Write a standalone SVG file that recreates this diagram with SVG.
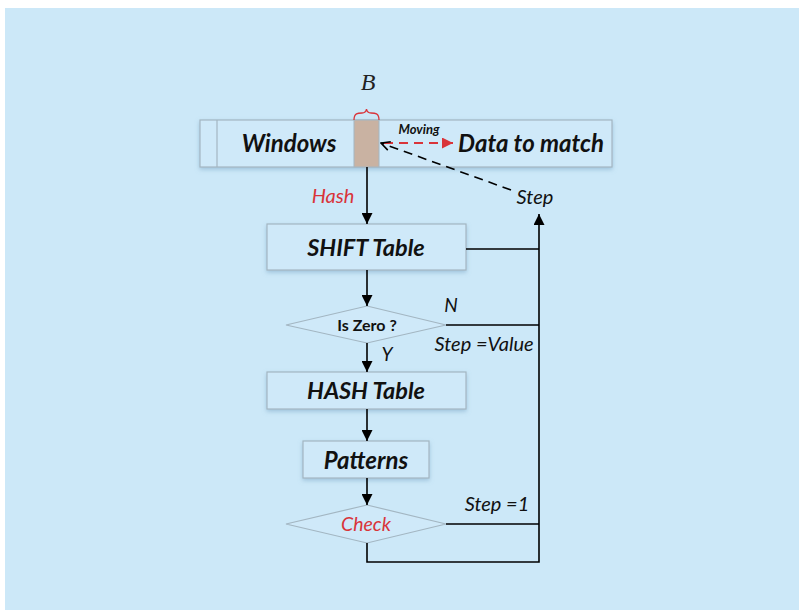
<svg xmlns="http://www.w3.org/2000/svg" width="799" height="610" viewBox="0 0 799 610">
<style>
.box{fill:#cfe9f9;stroke:#a3b6c2;stroke-width:1.2}
.t{font-family:Lato,"Liberation Sans",sans-serif;font-weight:bold;font-style:italic;fill:#111}
.lbl{font-family:Lato,"Liberation Sans",sans-serif;font-style:italic;fill:#111}
.red{fill:#d9343a}
.ln{stroke:#000;stroke-width:1.6;fill:none}
</style>
<defs>
<marker id="ah" viewBox="0 0 10 10" refX="10" refY="5" markerWidth="11" markerHeight="11" markerUnits="userSpaceOnUse" orient="auto"><path d="M0,0 L10,5 L0,10 z" fill="#000"/></marker>
<marker id="ahr" viewBox="0 0 10 10" refX="10" refY="5" markerWidth="11" markerHeight="11" markerUnits="userSpaceOnUse" orient="auto"><path d="M0,0 L10,5 L0,10 z" fill="#d9343a"/></marker>
<marker id="aho" viewBox="0 0 10 10" refX="9" refY="5" markerWidth="11" markerHeight="11" markerUnits="userSpaceOnUse" orient="auto"><path d="M1,1 L9,5 L1,9" fill="none" stroke="#000" stroke-width="1.4"/></marker>
<filter id="sh" x="-10%" y="-10%" width="120%" height="140%"><feDropShadow dx="0" dy="2" stdDeviation="2" flood-color="#6f9fc0" flood-opacity="0.5"/></filter>
</defs>
<rect x="5" y="8" width="794" height="602" fill="#cce8f8"/>

<g id="windows">
<rect class="box" x="200" y="120" width="412" height="47" filter="url(#sh)"/>
<line x1="217" y1="120" x2="217" y2="167" stroke="#a3b6c2" stroke-width="1.2"/>
<text class="t" x="289" y="152" font-size="24" text-anchor="middle">Windows</text>
<text class="t" x="531" y="152" font-size="24" text-anchor="middle">Data to match</text>
</g>
<g id="block">
<rect x="354" y="120" width="25" height="47" fill="#c9b2a2" stroke="#a3b6c2" stroke-width="1"/>
<path d="M354,120 C354,113 358,113 362,113 C365,113 366,112 366.5,109 C367,112 368,113 371,113 C375,113 379,113 379,120" fill="none" stroke="#d9343a" stroke-width="1.3"/>
<text x="368" y="90" font-family="'Liberation Serif',serif" font-style="italic" font-size="24" fill="#222" text-anchor="middle">B</text>
</g>
<g id="moving">
<text class="t" x="419" y="134" font-size="13" text-anchor="middle">Moving</text>
</g>

<g id="shift">
<rect class="box" x="267" y="224" width="199" height="46" filter="url(#sh)"/>
<text class="t" x="366" y="256" font-size="23.5" text-anchor="middle">SHIFT Table</text>
</g>
<g id="iszero">
<polygon class="box" points="367,306 446,325 367,343 286,325"/>
<text x="367" y="331" font-family="Lato,'Liberation Sans',sans-serif" font-weight="bold" font-size="16" fill="#111" text-anchor="middle">Is Zero ?</text>
</g>
<g id="hash">
<rect class="box" x="267" y="372" width="199" height="37" filter="url(#sh)"/>
<text class="t" x="366" y="399" font-size="23.5" text-anchor="middle">HASH Table</text>
</g>
<g id="patterns">
<rect class="box" x="303" y="441" width="126" height="37" filter="url(#sh)"/>
<text class="t" x="366" y="469" font-size="24" text-anchor="middle">Patterns</text>
</g>
<g id="check">
<polygon class="box" points="367,505 446,524 367,543 286,524"/>
<text class="lbl red" x="366" y="531" font-size="19.5" text-anchor="middle">Check</text>
</g>

<g id="connectors">
<line x1="384" y1="143" x2="453" y2="143" stroke="#d9343a" stroke-width="2" stroke-dasharray="9,6" marker-end="url(#ahr)"/>
<line x1="511" y1="190" x2="381" y2="143" stroke="#000" stroke-width="1.6" stroke-dasharray="9,6" marker-end="url(#aho)"/>
<line class="ln" x1="367" y1="167" x2="367" y2="224" marker-end="url(#ah)"/>
<line class="ln" x1="367" y1="270" x2="367" y2="306" marker-end="url(#ah)"/>
<line class="ln" x1="367" y1="343" x2="367" y2="372" marker-end="url(#ah)"/>
<line class="ln" x1="367" y1="409" x2="367" y2="441" marker-end="url(#ah)"/>
<line class="ln" x1="367" y1="478" x2="367" y2="505" marker-end="url(#ah)"/>
<polyline class="ln" points="367,543 367,562 539,562 539,214" marker-end="url(#ah)"/>
<line class="ln" x1="466" y1="249" x2="539" y2="249"/>
<line class="ln" x1="446" y1="325" x2="539" y2="325"/>
<line class="ln" x1="446" y1="524" x2="539" y2="524"/>
<text class="lbl red" x="333" y="203" font-size="20" text-anchor="middle">Hash</text>
<text class="lbl" x="535" y="204" font-size="20" text-anchor="middle">Step</text>
<text class="lbl" x="451" y="312" font-size="19" text-anchor="middle">N</text>
<text class="lbl" x="484" y="351" font-size="20" text-anchor="middle">Step =Value</text>
<text class="lbl" x="387" y="361" font-size="19" text-anchor="middle">Y</text>
<text class="lbl" x="497" y="511" font-size="20" text-anchor="middle">Step =1</text>
</g>
</svg>
